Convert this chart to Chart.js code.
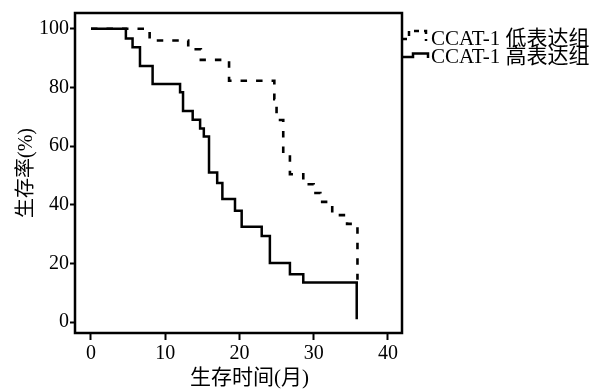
<!DOCTYPE html>
<html>
<head>
<meta charset="utf-8">
<script src="https://cdn.jsdelivr.net/npm/chart.js@4.4.1/dist/chart.umd.min.js"></script>
<style>
  html, body { margin: 0; padding: 0; background: #fff; }
</style>
</head>
<body>
<canvas id="km" width="602" height="389"></canvas>
<script>
// Kaplan-Meier curves (time in months, survival in %)
const seriesNames = ['CCAT-1 低表达组', 'CCAT-1 高表达组'];

const lowTimes = [0, 7.9, 13.1, 14.8, 18.6, 24.7, 25.0, 25.9, 26.8, 28.6, 30.0, 30.9, 32.5, 34.5, 35.9];
const lowSurv  = [100, 96.0, 93.0, 89.4, 82.3, 76.0, 68.9, 57.0, 50.4, 47.0, 44.0, 41.0, 36.5, 33.5, 14.5];

const highTimes = [0, 4.7, 5.6, 6.6, 8.3, 12.0, 12.4, 13.7, 14.7, 15.2, 15.9, 17.0, 17.7, 19.4, 20.3, 23.0, 24.1, 26.8, 28.6, 35.8];
const highSurv  = [100, 96.7, 93.7, 87.3, 81.2, 78.4, 72.0, 69.0, 66.0, 63.3, 51.0, 47.4, 42.0, 38.0, 32.5, 29.4, 20.2, 16.3, 13.5, 1.0];

const xTicks = [0, 10, 20, 30, 40];
const yTicks = [0, 20, 40, 60, 80, 100];

const xTitle = '生存时间(月)';
const yTitle = '生存率(%)';

const serif = '"Liberation Serif", "Noto Sans CJK SC", serif';

const toPoints = (ts, ss) => ts.map((t, i) => ({ x: t, y: ss[i] }));

// frame around the plot, x title and the step-shaped legend
const extras = {
  id: 'extras',
  afterDraw(chart) {
    const { ctx, chartArea: a } = chart;
    ctx.save();
    ctx.strokeStyle = '#000';
    ctx.lineWidth = 2.5;
    ctx.setLineDash([]);
    ctx.strokeRect(a.left, a.top, a.right - a.left, a.bottom - a.top);

    ctx.fillStyle = '#000';
    ctx.font = '21px ' + serif;
    ctx.textAlign = 'center';
    ctx.textBaseline = 'middle';
    ctx.fillText(xTitle, 249.5, 378);

    // legend
    const lx = a.right;
    ctx.lineWidth = 2.5;
    ctx.lineJoin = 'miter';
    ctx.setLineDash([5, 5]);
    ctx.beginPath();
    ctx.moveTo(lx, 39); ctx.lineTo(lx + 7, 39); ctx.lineTo(lx + 7, 31);
    ctx.lineTo(lx + 24, 31); ctx.lineTo(lx + 24, 41);
    ctx.stroke();
    ctx.setLineDash([]);
    ctx.beginPath();
    ctx.moveTo(lx, 57); ctx.lineTo(lx + 11, 57); ctx.lineTo(lx + 11, 53.5);
    ctx.lineTo(lx + 26, 53.5); ctx.lineTo(lx + 26, 58);
    ctx.stroke();

    ctx.textAlign = 'left';
    ctx.font = '21px ' + serif;
    ctx.fillText(seriesNames[0], lx + 29, 39);
    ctx.fillText(seriesNames[1], lx + 29, 57.5);
    ctx.restore();
  }
};

new Chart(document.getElementById('km'), {
  type: 'line',
  data: {
    datasets: [
      {
        label: seriesNames[0],
        data: toPoints(lowTimes, lowSurv),
        stepped: 'before',
        borderColor: '#000',
        borderWidth: 2.6,
        borderDash: [6.5, 9],
        borderJoinStyle: 'miter',
        pointRadius: 0,
        fill: false,
      },
      {
        label: seriesNames[1],
        data: toPoints(highTimes, highSurv),
        stepped: 'before',
        borderColor: '#000',
        borderWidth: 2.5,
        borderJoinStyle: 'miter',
        pointRadius: 0,
        fill: false,
      },
    ],
  },
  options: {
    responsive: false,
    animation: false,
    devicePixelRatio: 1,
    layout: { padding: { top: 8, right: 200, bottom: 0, left: 0 } },
    plugins: { legend: { display: false }, tooltip: { enabled: false } },
    scales: {
      x: {
        type: 'linear',
        min: -2.155,
        max: 41.9,
        afterBuildTicks: s => { s.ticks = xTicks.map(v => ({ value: v })); },
        afterFit: s => { s.height = 56; },
        grid: { display: true, drawOnChartArea: false, drawTicks: true, tickLength: 7, tickWidth: 2, tickColor: '#000' },
        border: { display: false },
        ticks: { color: '#000', font: { family: serif, size: 20 }, padding: 2, maxRotation: 0 },
      },
      y: {
        type: 'linear',
        min: -3.69,
        max: 105.37,
        afterBuildTicks: s => { s.ticks = yTicks.map(v => ({ value: v })); },
        afterFit: s => { s.width = 75; },
        grid: { display: true, drawOnChartArea: false, drawTicks: true, tickLength: 5, tickWidth: 2, tickColor: '#000' },
        border: { display: false },
        ticks: { color: '#000', font: { family: serif, size: 20 }, padding: 1 },
        title: { display: true, text: yTitle, color: '#000', font: { family: serif, size: 20 }, padding: { top: 15, bottom: 0 } },
      },
    },
  },
  plugins: [extras],
});
</script>
</body>
</html>
